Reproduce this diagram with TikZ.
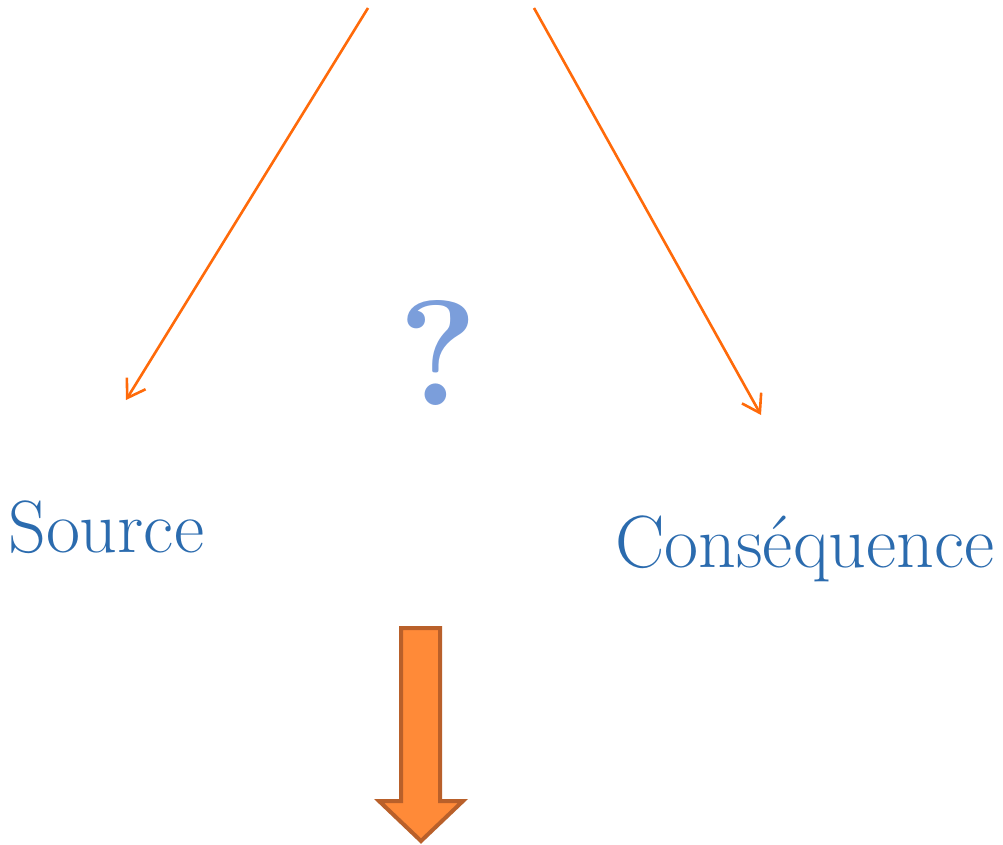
\documentclass[tikz,border=0pt]{standalone}
\usetikzlibrary{arrows.meta}
\definecolor{txtblue}{HTML}{2B6BAE}
\definecolor{qblue}{HTML}{7B9EDB}
\definecolor{lineorange}{HTML}{FF6A0A}
\definecolor{boxorange}{HTML}{FF8A38}
\definecolor{edgeorange}{HTML}{B9602A}
\tikzset{
  word/.style={text=txtblue, inner sep=0pt, font=\fontsize{74}{86}\selectfont},
  link/.style={draw=lineorange, line width=2.6pt, -{Straight Barb[length=17pt,width=22pt]}},
}
\begin{document}
\begin{tikzpicture}[x=1pt,y=-1pt]
        \useasboundingbox (0,0) rectangle (1003,845);
        \def\shaftL{401}
        \def\shaftR{440}
        \def\headL{379}
        \def\headR{463}

        \coordinate (topL) at (368,8);
        \coordinate (topR) at (534,8);
        \coordinate (tipL) at (126,400);
        \coordinate (tipR) at (761,415);

        \node[word, anchor=base west] (src) at (8,552) {Source};
        \node[word, anchor=base west] (csq) at (615,567) {Conséquence};
        \node[text=qblue, inner sep=0pt, anchor=base, font=\fontsize{150}{160}\selectfont\bfseries] (qm) at (438,405) {?};

        \draw[link] (topL) -- (tipL);
        \draw[link] (topR) -- (tipR);

        % big arrow
        \draw[fill=boxorange, draw=edgeorange, line width=4pt, line join=miter]
          (\shaftL,628) -- (\shaftR,628) -- (\shaftR,801) -- (\headR,801) -- (421,841)
          -- (\headL,801) -- (\shaftL,801) -- cycle;
\end{tikzpicture}
\end{document}
